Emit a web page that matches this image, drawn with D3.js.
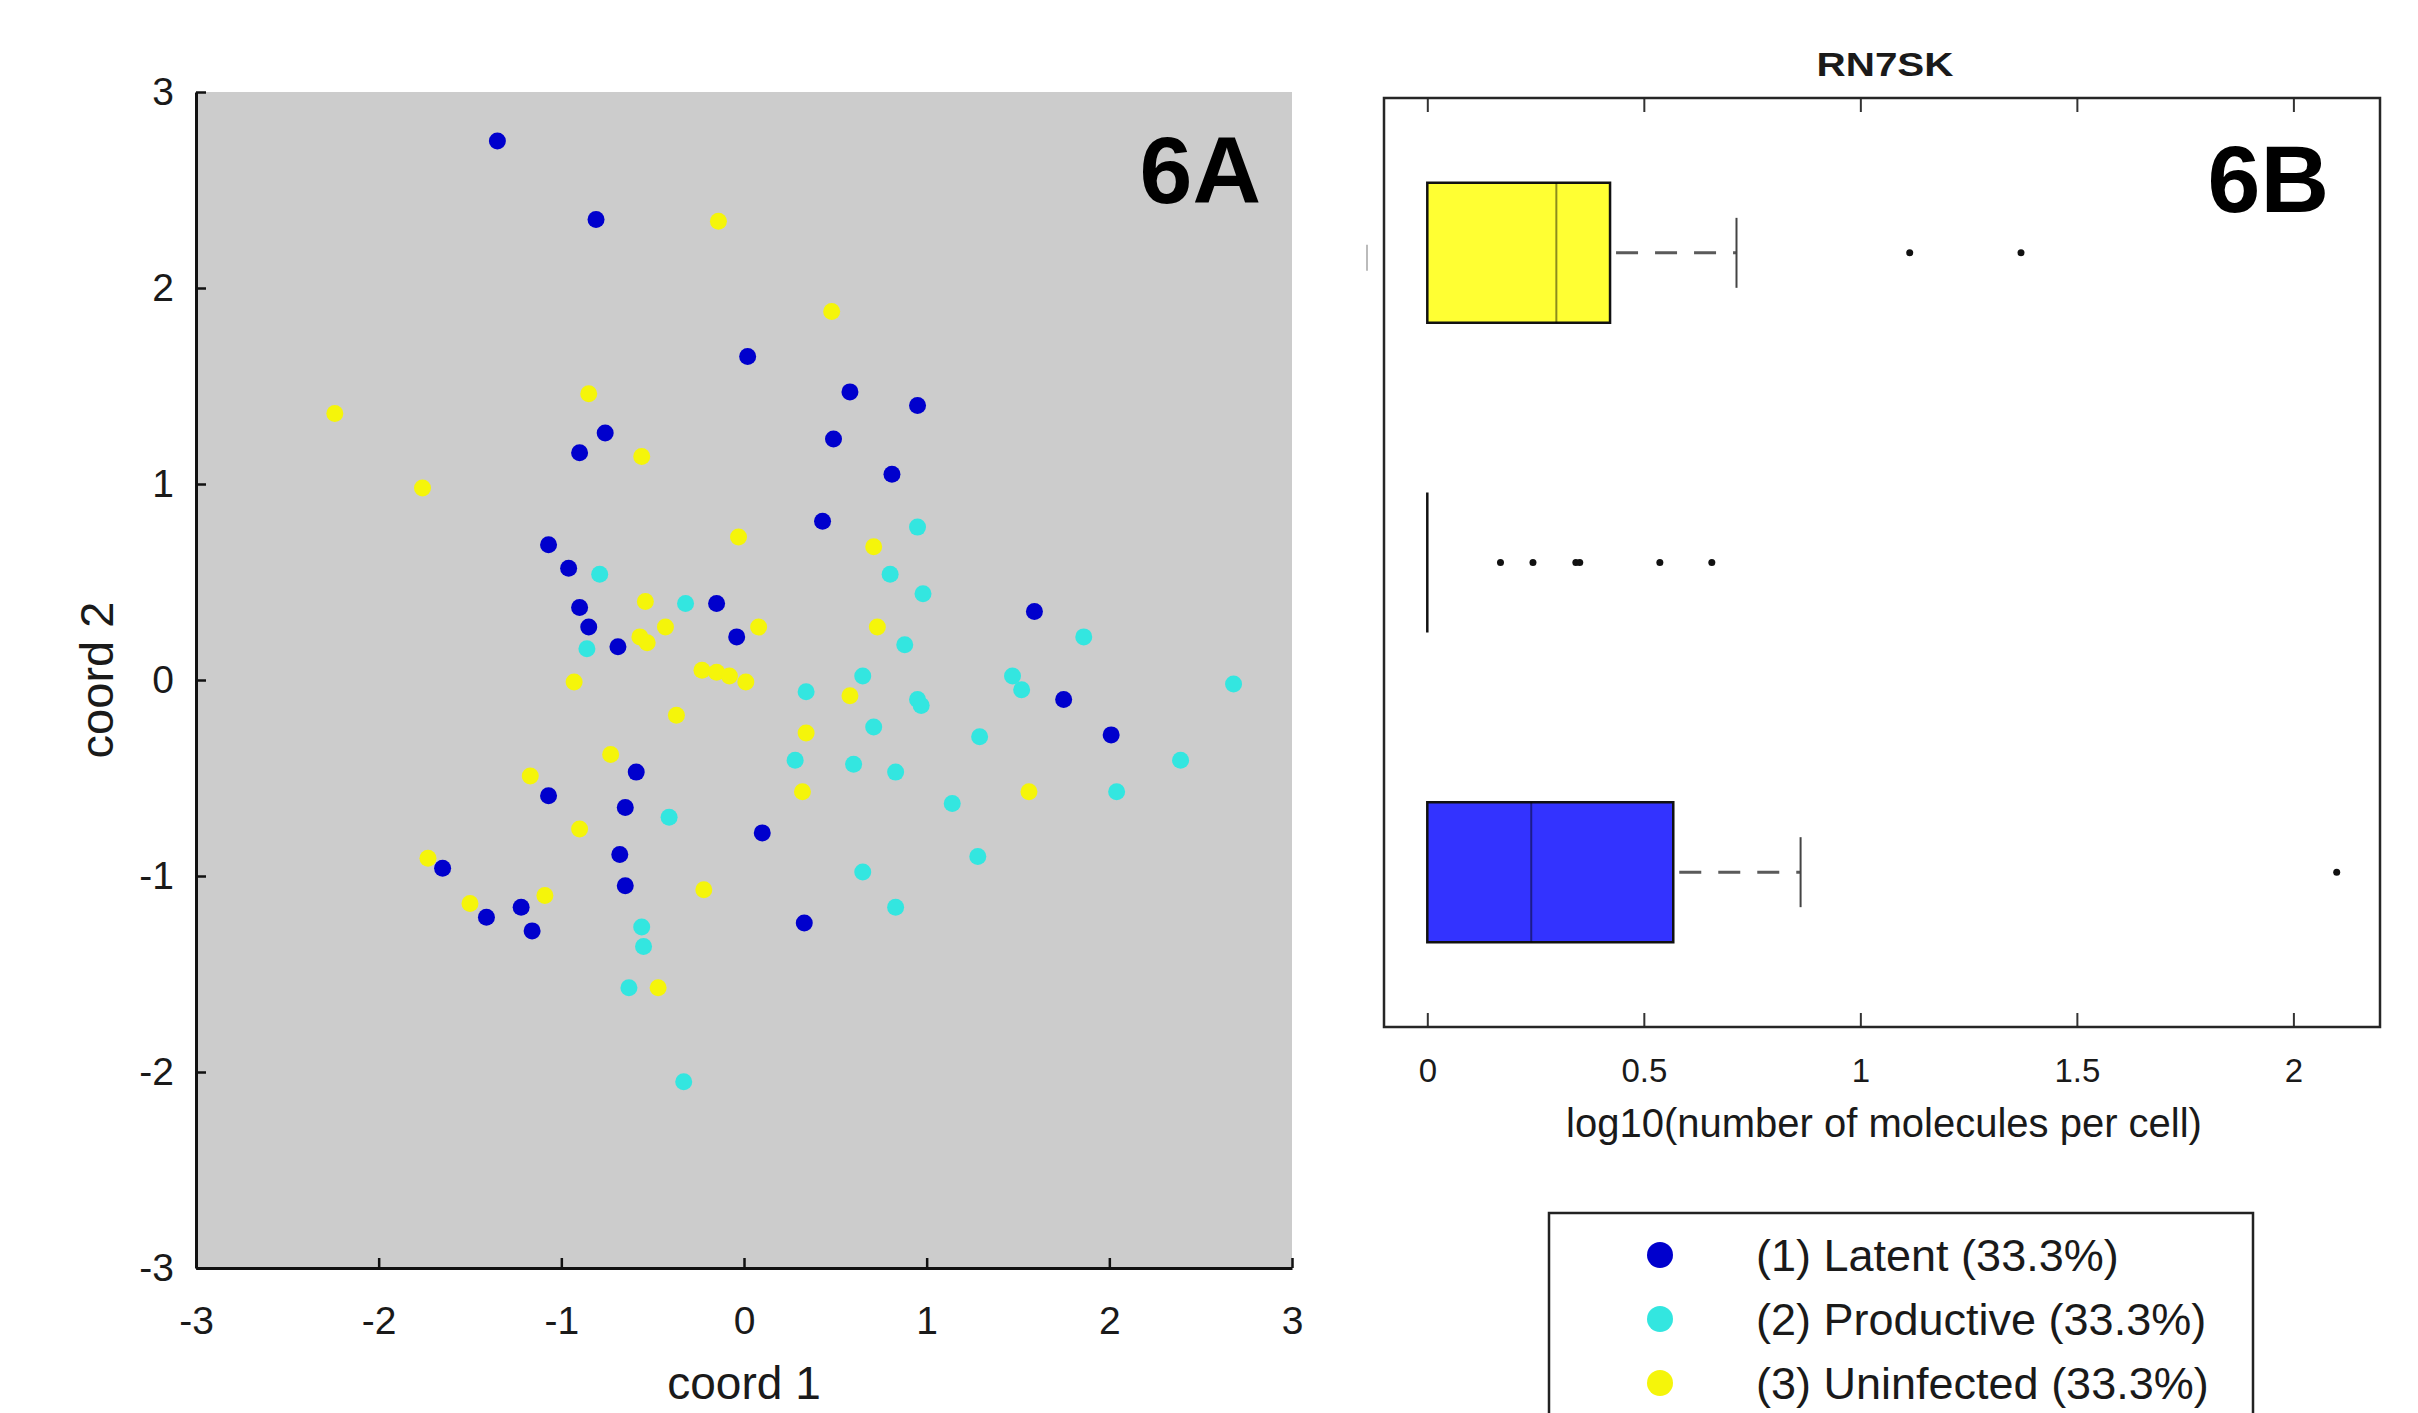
<!DOCTYPE html>
<html>
<head>
<meta charset="utf-8">
<title>6A / 6B</title>
<script src="https://cdn.jsdelivr.net/npm/d3@7"></script>
<style>
  body { margin: 0; background: #fff; }
  svg { display: block; font-family: "Liberation Sans", Arial, Helvetica, sans-serif; }
  .tick text { fill: #1a1a1a; }
</style>
</head>
<body>
<script>
  // groups (same order in scatter, boxplot and legend)
  const groupNames = ['(1) Latent (33.3%)', '(2) Productive (33.3%)', '(3) Uninfected (33.3%)']
  const dotColors = ['#0000cd', '#33e6e0', '#f5f50a']
  const boxColors = ['#3333ff', '#33ffff', '#ffff33']

  // 6A: coord 1 / coord 2 per cell
  const latentPts = [
    [-1.35, 2.75], [-0.81, 2.35], [0.02, 1.65], [0.58, 1.47], [0.95, 1.40], [0.49, 1.23],
    [0.81, 1.05], [-0.76, 1.26], [-0.90, 1.16], [-1.07, 0.69], [-0.96, 0.57], [0.43, 0.81],
    [-0.90, 0.37], [-0.85, 0.27], [-0.69, 0.17], [-0.15, 0.39], [-0.04, 0.22], [1.59, 0.35],
    [1.75, -0.10], [2.01, -0.28], [-0.59, -0.47], [-1.07, -0.59], [-0.65, -0.65], [0.10, -0.78],
    [-0.68, -0.89], [-0.65, -1.05], [-1.65, -0.96], [-1.22, -1.16], [-1.41, -1.21], [-1.16, -1.28],
    [0.33, -1.24]
  ]
  const productivePts = [
    [-0.79, 0.54], [-0.32, 0.39], [-0.86, 0.16], [0.95, 0.78], [0.80, 0.54], [0.98, 0.44],
    [0.88, 0.18], [0.34, -0.06], [0.65, 0.02], [0.95, -0.10], [0.97, -0.13], [1.47, 0.02],
    [1.52, -0.05], [1.86, 0.22], [2.68, -0.02], [0.71, -0.24], [0.28, -0.41], [0.60, -0.43],
    [0.83, -0.47], [1.29, -0.29], [2.39, -0.41], [2.04, -0.57], [1.14, -0.63], [-0.41, -0.70],
    [1.28, -0.90], [0.65, -0.98], [0.83, -1.16], [-0.56, -1.26], [-0.55, -1.36], [-0.63, -1.57],
    [-0.33, -2.05]
  ]
  const uninfectedPts = [
    [-2.24, 1.36], [-1.76, 0.98], [-0.14, 2.34], [0.48, 1.88], [-0.85, 1.46], [-0.56, 1.14],
    [-0.03, 0.73], [0.71, 0.68], [-0.54, 0.40], [-0.43, 0.27], [-0.57, 0.22], [-0.53, 0.19],
    [0.08, 0.27], [-0.93, -0.01], [-0.23, 0.05], [-0.15, 0.04], [-0.08, 0.02], [0.01, -0.01],
    [0.73, 0.27], [-0.37, -0.18], [0.58, -0.08], [0.34, -0.27], [-0.73, -0.38], [-1.17, -0.49],
    [0.32, -0.57], [1.56, -0.57], [-0.90, -0.76], [-1.73, -0.91], [-1.09, -1.10], [-1.50, -1.14],
    [-0.22, -1.07], [-0.47, -1.57]
  ]
  const coordTicks = [-3, -2, -1, 0, 1, 2, 3]

  // 6B: RN7SK boxplot, log10(number of molecules per cell)
  const boxPos = [1, 2, 3]
  const boxQ1 = [0, 0, 0]
  const boxMedian = [0.24, 0, 0.298]
  const boxQ3 = [0.568, 0, 0.422]
  const whiskerHi = [0.862, 0, 0.714]
  const boxOutliers = [
    [2.10],
    [0.169, 0.244, 0.343, 0.352, 0.537, 0.657],
    [1.114, 1.371]
  ]
  const logTicks = [0, 0.5, 1, 1.5, 2]

  const svg = d3.select('body')
    .append('svg')
    .attr('width', 2418)
    .attr('height', 1413)

  // ---------- 6A scatter ----------
  const x = d3.scaleLinear().domain([-3, 3]).range([196, 1292])
  const y = d3.scaleLinear().domain([-3, 3]).range([1268, 92])

  svg.append('rect')
    .attr('x', x(-3))
    .attr('y', y(3))
    .attr('width', x(3) - x(-3))
    .attr('height', y(-3) - y(3))
    .attr('fill', '#cccccc')

  const scatterGroups = [latentPts, productivePts, uninfectedPts]
  scatterGroups.forEach((pts, i) => {
    svg.append('g')
      .selectAll('circle')
      .data(pts)
      .join('circle')
      .attr('cx', d => x(d[0]))
      .attr('cy', d => y(d[1]))
      .attr('r', 8.5)
      .attr('fill', dotColors[i])
  })

  const leftAxis = svg.append('g')
    .attr('transform', `translate(${x(-3)},0)`)
    .call(d3.axisLeft(y).tickValues(coordTicks).tickFormat(d => String(d))
      .tickSizeInner(-10).tickSizeOuter(0).tickPadding(22))
  const bottomAxis = svg.append('g')
    .attr('transform', `translate(0,${y(-3)})`)
    .call(d3.axisBottom(x).tickValues(coordTicks).tickFormat(d => String(d))
      .tickSizeInner(-10).tickSizeOuter(0).tickPadding(38))

  ;[leftAxis, bottomAxis].forEach(a => {
    a.attr('font-family', null).attr('font-size', 39)
    a.select('.domain').attr('stroke', '#111').attr('stroke-width', 3)
    a.selectAll('.tick line').attr('stroke', '#111').attr('stroke-width', 2.5)
  })

  svg.append('text')
    .attr('x', x(0))
    .attr('y', 1399)
    .attr('text-anchor', 'middle')
    .attr('font-size', 46)
    .attr('fill', '#1a1a1a')
    .text('coord 1')

  svg.append('text')
    .attr('transform', `translate(113,${y(0)}) rotate(-90)`)
    .attr('text-anchor', 'middle')
    .attr('font-size', 47)
    .attr('fill', '#1a1a1a')
    .text('coord 2')

  svg.append('text')
    .attr('x', 1261)
    .attr('y', 203)
    .attr('text-anchor', 'end')
    .attr('font-size', 95)
    .attr('font-weight', 'bold')
    .text('6A')

  // ---------- 6B boxplot ----------
  const bx = d3.scaleLinear().domain([-0.1, 2.2]).range([1384, 2380])
  const by = d3.scaleLinear().domain([0.5, 3.5]).range([1027, 98])
  const boxHalf = 0.226
  const capHalf = 0.113

  svg.append('text')
    .attr('x', 1885)
    .attr('y', 76)
    .attr('text-anchor', 'middle')
    .attr('font-size', 33)
    .attr('font-weight', 'bold')
    .attr('textLength', 137)
    .attr('lengthAdjust', 'spacingAndGlyphs')
    .attr('fill', '#1a1a1a')
    .text('RN7SK')

  const bBottom = svg.append('g')
    .attr('transform', `translate(0,${by(0.5)})`)
    .call(d3.axisBottom(bx).tickValues(logTicks).tickFormat(d => String(d))
      .tickSizeInner(-14).tickSizeOuter(0).tickPadding(32))
  const bTop = svg.append('g')
    .attr('transform', `translate(0,${by(3.5)})`)
    .call(d3.axisTop(bx).tickValues(logTicks).tickFormat('')
      .tickSizeInner(-14).tickSizeOuter(0))
  ;[bBottom, bTop].forEach(a => {
    a.attr('font-family', null).attr('font-size', 33)
    a.select('.domain').remove()
    a.selectAll('.tick line').attr('stroke', '#333').attr('stroke-width', 2)
  })

  svg.append('rect')
    .attr('x', bx(-0.1))
    .attr('y', by(3.5))
    .attr('width', bx(2.2) - bx(-0.1))
    .attr('height', by(0.5) - by(3.5))
    .attr('fill', 'none')
    .attr('stroke', '#262626')
    .attr('stroke-width', 2.5)

  // faint cut-off tick label mark left of the frame
  svg.append('line')
    .attr('x1', 1367).attr('x2', 1367)
    .attr('y1', by(3) - 8).attr('y2', by(3) + 18)
    .attr('stroke', '#bbbbbb')
    .attr('stroke-width', 2)

  boxPos.forEach((p, i) => {
    const g = svg.append('g')
    // whisker
    if (whiskerHi[i] > boxQ3[i]) {
      g.append('line')
        .attr('x1', bx(boxQ3[i])).attr('x2', bx(whiskerHi[i]))
        .attr('y1', by(p)).attr('y2', by(p))
        .attr('stroke', '#5a5a5a')
        .attr('stroke-width', 3)
        .attr('stroke-dasharray', '22,17')
        .attr('stroke-dashoffset', -6)
      g.append('line')
        .attr('x1', bx(whiskerHi[i])).attr('x2', bx(whiskerHi[i]))
        .attr('y1', by(p + capHalf)).attr('y2', by(p - capHalf))
        .attr('stroke', '#444')
        .attr('stroke-width', 2)
    }
    // box (path so a zero-width box still shows as a line)
    const x0 = bx(boxQ1[i]), x1 = bx(boxQ3[i])
    const y0 = by(p + boxHalf), y1 = by(p - boxHalf)
    g.append('path')
      .attr('d', `M${x0},${y0}H${x1}V${y1}H${x0}Z`)
      .attr('fill', boxColors[i])
      .attr('stroke', '#111')
      .attr('stroke-width', 2.5)
    if (boxQ3[i] > boxQ1[i]) {
      g.append('line')
        .attr('x1', bx(boxMedian[i])).attr('x2', bx(boxMedian[i]))
        .attr('y1', y0).attr('y2', y1)
        .attr('stroke', '#000')
        .attr('stroke-opacity', 0.45)
        .attr('stroke-width', 2)
    }
    g.selectAll('circle')
      .data(boxOutliers[i])
      .join('circle')
      .attr('cx', d => bx(d))
      .attr('cy', by(p))
      .attr('r', 3.5)
      .attr('fill', '#111')
  })

  svg.append('text')
    .attr('x', 1884)
    .attr('y', 1137)
    .attr('text-anchor', 'middle')
    .attr('font-size', 40)
    .attr('fill', '#1a1a1a')
    .text('log10(number of molecules per cell)')

  svg.append('text')
    .attr('x', 2329)
    .attr('y', 212)
    .attr('text-anchor', 'end')
    .attr('font-size', 95)
    .attr('font-weight', 'bold')
    .text('6B')

  // ---------- legend ----------
  const legend = svg.append('g')
  legend.append('rect')
    .attr('x', 1549)
    .attr('y', 1213)
    .attr('width', 704)
    .attr('height', 260)
    .attr('fill', '#fff')
    .attr('stroke', '#222')
    .attr('stroke-width', 2.5)

  const rows = legend.selectAll('g.row')
    .data(groupNames)
    .join('g')
    .attr('class', 'row')
    .attr('transform', (d, i) => `translate(0,${1255 + i * 64})`)
  rows.append('circle')
    .attr('cx', 1660)
    .attr('cy', 0)
    .attr('r', 13)
    .attr('fill', (d, i) => dotColors[i])
  rows.append('text')
    .attr('x', 1756)
    .attr('dy', '0.36em')
    .attr('font-size', 45)
    .attr('fill', '#1a1a1a')
    .text(d => d)
</script>
</body>
</html>
